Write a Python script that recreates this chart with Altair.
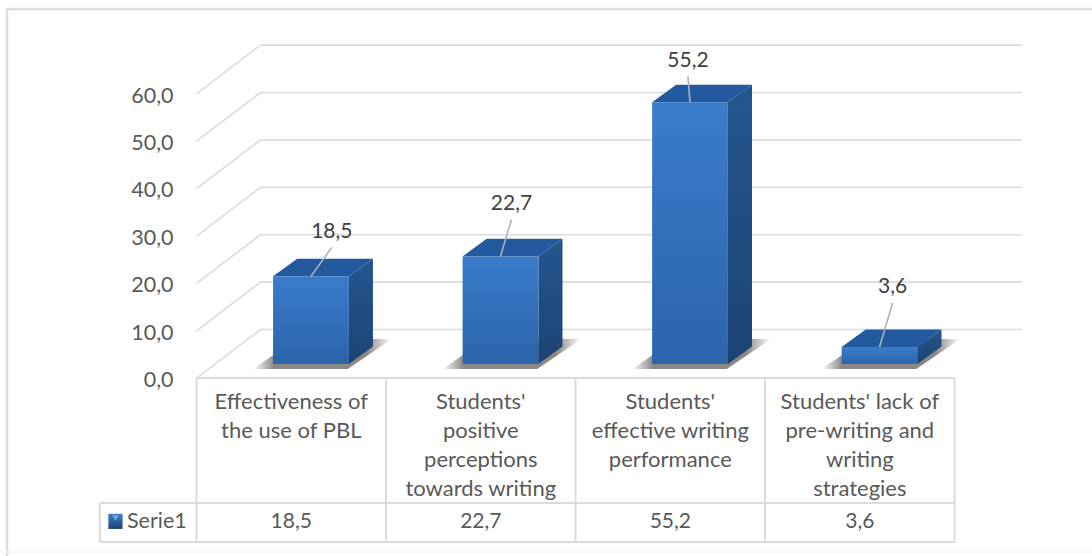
import altair as alt
import pandas as pd

# Chart values
categories = [
    "Effectiveness of\nthe use of PBL",
    "Students'\npositive\nperceptions\ntowards writing",
    "Students'\neffective writing\nperformance",
    "Students' lack of\npre-writing and\nwriting\nstrategies",
]
values = [18.5, 22.7, 55.2, 3.6]
value_labels = ["18,5", "22,7", "55,2", "3,6"]
ticks = [0, 10, 20, 30, 40, 50, 60]
series_name = "Serie1"

# The plot area starts where the value axis sits; the table's key cell hangs
# out to its left, inside the page padding.
PAD_LEFT = 173
PLOT_W = 1092 - PAD_LEFT
PLOT_H = 556

# Scale domains: one x unit is one category slot, y is in chart value units
X_DOMAIN = [-0.124, 4.725]
Y_DOMAIN = [-40.506, 76.793]
x_scale = alt.Scale(domain=X_DOMAIN, nice=False, zero=False)
y_scale = alt.Scale(domain=Y_DOMAIN, nice=False, zero=False)

# Box geometry in scale units
BAR_LEFT = 0.404
BAR_W = 0.40
DEPTH_X = 0.127
DEPTH_V = 3.7
# Chart floor planes relative to the bars
FRONT_V = -3.0
BACK_V = 7.28
WALL_LEFT = 0.338
WALL_RIGHT = 4.356
# Table rows
ROW_TOP = -2.95
ROW_MID = -29.3
ROW_BOTTOM = -37.55
KEY_LEFT = -0.51
# Leader end per bar, relative to the bar's top centre (x units, value units)
label_shift = [(0.11, 6.1), (0.058, 7.8), (-0.011, 5.5), (0.069, 9.3)]

FONT = "Lato"
GREY_LINE = "#dbdbdb"
TEXT_GREY = "#595959"
TEXT_DARK = "#404040"

# Value axis shared by every layer
value_axis = alt.Axis(
    values=ticks,
    orient="left",
    domain=False,
    ticks=False,
    grid=False,
    title=None,
    labelPadding=0,
    labelOffset=16.5,
    labelFont=FONT,
    labelFontSize=21.5,
    labelColor=TEXT_GREY,
    labelExpr="replace(format(datum.value, '.1f'), '.', ',')",
)


def vgrad(top, bottom):
    return alt.Gradient(
        gradient="linear", x1=0, y1=0, x2=0, y2=1,
        stops=[alt.GradientStop(color=top, offset=0), alt.GradientStop(color=bottom, offset=1)],
    )


def X(field="x"):
    return alt.X(field, type="quantitative", scale=x_scale, axis=None)


def Y(field="y"):
    return alt.Y(field, type="quantitative", scale=y_scale, axis=value_axis)


# Chart border: heavy top and left edges, a very faint bottom edge
border_top = (
    alt.Chart(pd.DataFrame({"k": [0]}))
    .mark_rule(color="#dcdcdc", strokeWidth=2.5)
    .encode(x=alt.value(7 - PAD_LEFT), x2=alt.value(PLOT_W), y=alt.value(9))
)
border_left = (
    alt.Chart(pd.DataFrame({"k": [0]}))
    .mark_rule(color="#dcdcdc", strokeWidth=2.5)
    .encode(x=alt.value(7 - PAD_LEFT), y=alt.value(9), y2=alt.value(PLOT_H))
)
border_bottom = (
    alt.Chart(pd.DataFrame({"k": [0]}))
    .mark_rule(color="#f6f6f6", strokeWidth=2)
    .encode(x=alt.value(7 - PAD_LEFT), x2=alt.value(PLOT_W), y=alt.value(552))
)

# Gridlines: a slanted part on the side wall and a level part on the back wall
grid_rows = []
for t in ticks:
    grid_rows.append({"x": 0, "x2": WALL_LEFT, "y": t + FRONT_V, "y2": t + BACK_V})
    grid_rows.append({"x": WALL_LEFT, "x2": WALL_RIGHT, "y": t + BACK_V, "y2": t + BACK_V})
grid = (
    alt.Chart(pd.DataFrame(grid_rows))
    .mark_rule(color=GREY_LINE, strokeWidth=1.6)
    .encode(x=X(), x2="x2", y=Y(), y2="y2")
)


def skewed(index, left, width, skew, low, high):
    """Four outline points of a parallelogram, ready for an area mark."""
    return [
        {"id": index, "x": left, "y": low, "y2": low},
        {"id": index, "x": left + skew, "y": high, "y2": low},
        {"id": index, "x": left + width, "y": high, "y2": low},
        {"id": index, "x": left + width + skew, "y": high, "y2": high},
    ]


shadow_rows, side_rows, top_rows, front_rows, leader_rows, label_rows = [], [], [], [], [], []
for i, v in enumerate(values):
    left = i + BAR_LEFT
    right = left + BAR_W
    shadow_rows += skewed(i, left - 0.106, 0.50, 0.232, -1.05, 5.25)
    side_rows += [
        {"id": i, "x": right, "y": v, "y2": 0},
        {"id": i, "x": right + DEPTH_X, "y": v + DEPTH_V, "y2": DEPTH_V},
    ]
    top_rows += skewed(i, left, BAR_W, DEPTH_X, v, v + DEPTH_V)
    front_rows.append({"x": left, "x2": right, "y": v, "y2": 0})
    mid = left + BAR_W / 2
    dx, dv = label_shift[i]
    leader_rows.append({"x": mid, "x2": mid + dx, "y": v, "y2": v + dv})
    label_rows.append({"x": mid + dx, "y": v + dv, "label": value_labels[i]})

shadow = (
    alt.Chart(pd.DataFrame(shadow_rows))
    .mark_area(
        color=alt.Gradient(
            gradient="linear", x1=0, y1=0, x2=1, y2=0,
            stops=[
                alt.GradientStop(color="rgba(120,115,110,0)", offset=0),
                alt.GradientStop(color="rgba(120,115,110,0.85)", offset=0.15),
                alt.GradientStop(color="rgba(120,115,110,0.85)", offset=0.82),
                alt.GradientStop(color="rgba(120,115,110,0)", offset=1),
            ],
        )
    )
    .encode(x=X(), y=Y(), y2="y2", detail="id:N")
)
side = (
    alt.Chart(pd.DataFrame(side_rows))
    .mark_area(color=vgrad("#24568f", "#1c4473"))
    .encode(x=X(), y=Y(), y2="y2", detail="id:N")
)
top = (
    alt.Chart(pd.DataFrame(top_rows))
    .mark_area(color="#235a9f")
    .encode(x=X(), y=Y(), y2="y2", detail="id:N")
)
front = (
    alt.Chart(pd.DataFrame(front_rows))
    .mark_rect(color=vgrad("#3a7ccb", "#2b64ab"))
    .encode(x=X(), x2="x2", y=Y(), y2="y2")
)
leaders = (
    alt.Chart(pd.DataFrame(leader_rows))
    .mark_rule(color="#a9b2bb", strokeWidth=1.6)
    .encode(x=X(), x2="x2", y=Y(), y2="y2")
)
value_text = (
    alt.Chart(pd.DataFrame(label_rows))
    .mark_text(font=FONT, fontSize=21, color=TEXT_DARK, baseline="middle", dy=-15.5)
    .encode(x=X(), y=Y(), text="label:N")
)

# Data table under the chart
table_rows = [
    {"x": 0, "x2": 4, "y": ROW_TOP, "y2": ROW_TOP},
    {"x": KEY_LEFT, "x2": 4, "y": ROW_MID, "y2": ROW_MID},
    {"x": KEY_LEFT, "x2": 4, "y": ROW_BOTTOM, "y2": ROW_BOTTOM},
    {"x": KEY_LEFT, "x2": KEY_LEFT, "y": ROW_MID, "y2": ROW_BOTTOM},
]
for i in range(5):
    table_rows.append({"x": i, "x2": i, "y": ROW_TOP, "y2": ROW_BOTTOM})
table = (
    alt.Chart(pd.DataFrame(table_rows))
    .mark_rule(color=GREY_LINE, strokeWidth=2)
    .encode(x=X(), x2="x2", y=Y(), y2="y2")
)
cell_df = pd.DataFrame(
    {"x": [i + 0.5 for i in range(4)], "y": [ROW_TOP - 3.0] * 4, "category": categories,
     "row_y": [(ROW_MID + ROW_BOTTOM) / 2] * 4, "value": value_labels}
)
category_text = (
    alt.Chart(cell_df)
    .mark_text(font=FONT, fontSize=22, color=TEXT_GREY, baseline="top", lineBreak="\n", lineHeight=29)
    .encode(x=X(), y=Y(), text="category:N")
)
row_text = (
    alt.Chart(cell_df)
    .mark_text(font=FONT, fontSize=21, color=TEXT_GREY, baseline="middle")
    .encode(x=X(), y=Y("row_y"), text="value:N")
)

# Legend key and series name in the table's first cell
key_df = pd.DataFrame({"x": [KEY_LEFT + 0.045], "x2": [KEY_LEFT + 0.12], "y": [-31.6], "y2": [-34.8],
                       "mx": [KEY_LEFT + 0.0825], "my": [-32.5],
                       "tx": [KEY_LEFT + 0.143], "ty": [-33.3], "name": [series_name]})
key = (
    alt.Chart(key_df)
    .mark_rect(color=vgrad("#3f7fc8", "#1d4470"))
    .encode(x=X(), x2="x2", y=Y(), y2="y2")
)
key_glint = (
    alt.Chart(key_df)
    .mark_point(shape="triangle-down", filled=True, color="#6ba6e6", opacity=1, size=45)
    .encode(x=X("mx"), y=Y("my"))
)
key_text = (
    alt.Chart(key_df)
    .mark_text(font=FONT, fontSize=21.5, color=TEXT_GREY, align="left", baseline="middle")
    .encode(x=X("tx"), y=Y("ty"), text="name:N")
)

chart = (
    alt.layer(border_top, border_left, border_bottom, grid, shadow, side, top, front,
              leaders, value_text, table, category_text, row_text, key, key_glint, key_text)
    .properties(width=PLOT_W, height=PLOT_H, autosize=alt.AutoSizeParams(type="none"),
                padding={"left": PAD_LEFT, "top": 0, "right": 0, "bottom": 0},
                background="white")
    .configure_view(stroke=None)
)

chart.save("out.html", embed_options={"renderer": "svg", "actions": False})
